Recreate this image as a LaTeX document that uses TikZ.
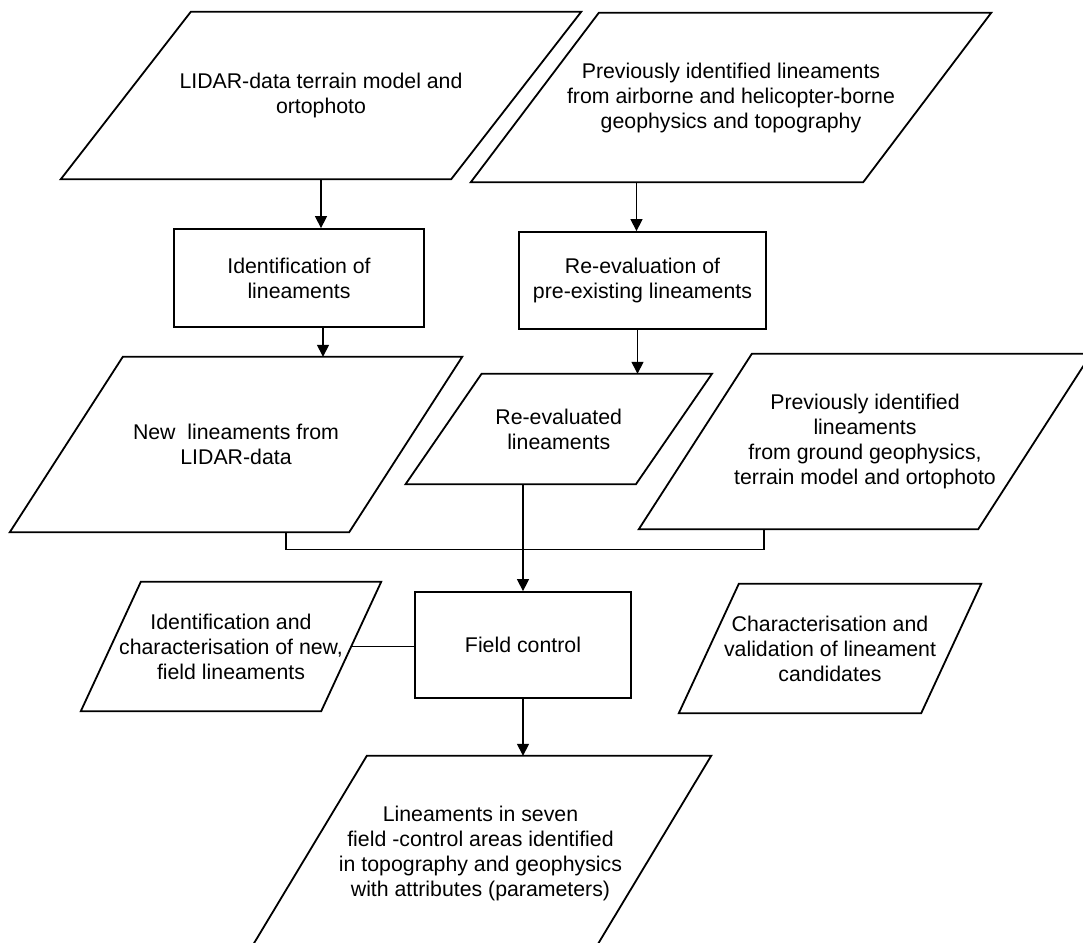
\documentclass[tikz,border=0pt]{standalone}
\usepackage{fontspec}
\setmainfont{Liberation Sans}
\usetikzlibrary{arrows.meta, calc}

\tikzset{
    box/.style = {draw, line width=1.8pt, inner sep=0pt, align=center},
    datanode/.style = {inner sep=0pt, align=center},
    arrow/.style = {line width=1.4pt, -{Triangle[width=12pt, length=12pt]}},
    link/.style = {line width=1.4pt},
}

\begin{document}
\begin{tikzpicture}[x=1pt, y=-1pt, font=\fontsize{21.3}{25}\selectfont]
    \useasboundingbox (0, 0) rectangle (1083, 942);
    \clip (0, 0) rectangle (1083, 942);

    % inputs
    \node[datanode, minimum width=390pt, minimum height=167pt] (lidar) at (321, 95.5) {LIDAR-data terrain model and\\ortophoto};
    \node[datanode, minimum width=392pt, minimum height=169pt] (airborne) at (731, 97.5) {Previously identified lineaments\\from airborne and helicopter-borne\\geophysics and topography};

    % processing
    \node[box, minimum width=250pt, minimum height=98pt] (ident) at (299, 278) {Identification of\\lineaments};
    \node[box, minimum width=247pt, minimum height=97pt] (reevalbox) at (642.5, 280.5) {Re-evaluation of\\pre-existing lineaments};

    \node[datanode, minimum width=339pt, minimum height=175pt] (newlin) at (236, 444.5) {New\ \ lineaments from\\LIDAR-data};
    \node[datanode, minimum width=230pt, minimum height=110pt] (reeval) at (558.75, 429) {Re-evaluated\\lineaments};
    \node[datanode, minimum width=339pt, minimum height=175pt] (ground) at (865, 441.5) {Previously identified\\lineaments\\from ground geophysics,\\terrain model and ortophoto};

    % field work
    \node[box, minimum width=216pt, minimum height=106pt] (field) at (523, 645) {Field control};
    \node[datanode, minimum width=240pt, minimum height=129pt] (fieldnew) at (231, 646.5) {Identification and\\characterisation of new,\\field lineaments};
    \node[datanode, minimum width=242pt, minimum height=129pt] (candid) at (830, 648.5) {Characterisation and\\validation of lineament\\candidates};

    % result
    \node[datanode, minimum width=344pt, minimum height=194pt] (result) at (480.5, 853) {Lineaments in seven\\field -control areas identified\\in topography and geophysics\\with attributes (parameters)};

    \foreach \nd/\off in {lidar/130, airborne/128, newlin/113, reeval/76, ground/113, fieldnew/60, candid/60, result/117} {
        \draw[line width=1.8pt] ($(\nd.north west)+(\off/2, 0)$) -- ($(\nd.north east)+(\off/2, 0)$) -- ($(\nd.south east)-(\off/2, 0)$) -- ($(\nd.south west)-(\off/2, 0)$) -- cycle;
    }

    \draw[arrow] (lidar.south) -- (lidar.south |- ident.north);
    \draw[arrow] ([xshift=-6pt]reevalbox.north |- airborne.south) -- ([xshift=-6pt]reevalbox.north);
    \draw[arrow] ([xshift=24pt]ident.south) -- ([xshift=24pt]ident.south |- newlin.north);
    \draw[arrow] ([xshift=-5pt]reevalbox.south) -- ([xshift=-5pt]reevalbox.south |- reeval.north);
    \draw[link] ([xshift=50pt]newlin.south) -- ++(0, 17) -| ([xshift=-101pt]ground.south);
    \draw[arrow] (reeval.south -| field.north) -- (field.north);
    \draw[arrow] (field.south) -- (field.south |- result.north);
    \draw[link] (fieldnew.east) -- (fieldnew.east -| field.west);
\end{tikzpicture}
\end{document}
